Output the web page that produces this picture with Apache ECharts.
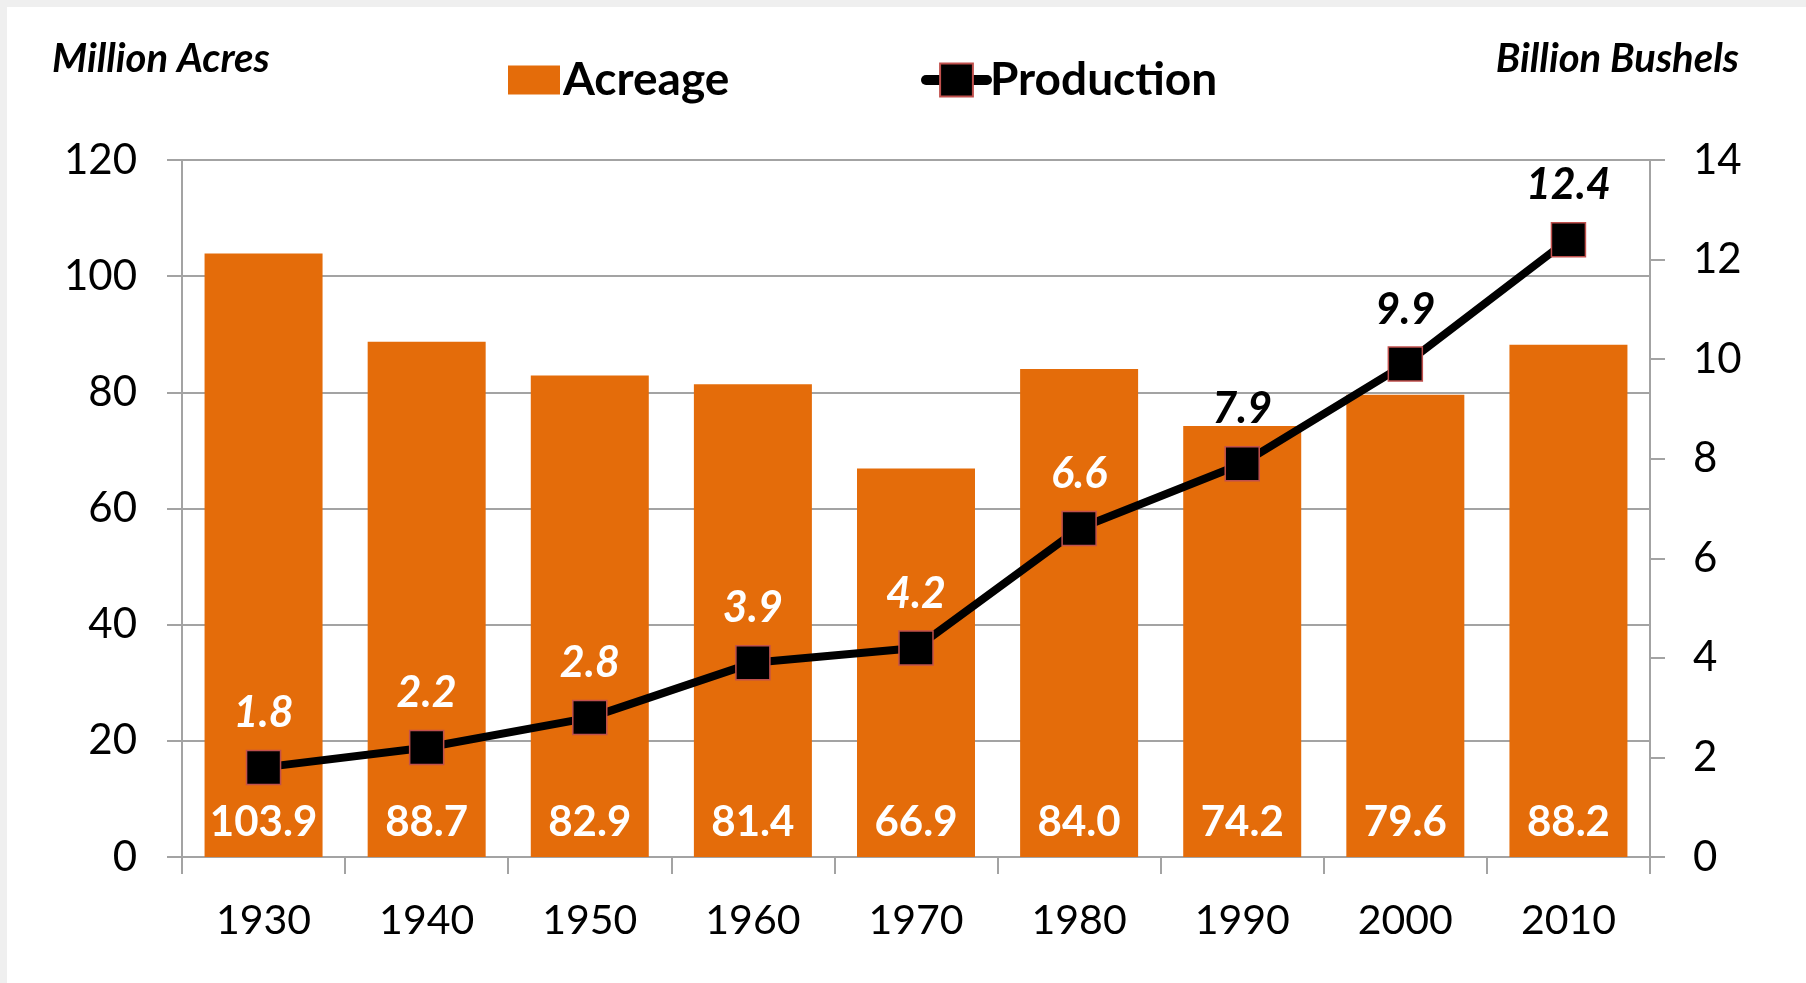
<!DOCTYPE html>
<html>
<head>
<meta charset="utf-8">
<script src="https://cdn.jsdelivr.net/npm/echarts@6/dist/echarts.min.js"></script>
<style>
  html, body { margin: 0; padding: 0; background: #efefef; }
  #chart { width: 1806px; height: 983px; }
</style>
</head>
<body>
<div id="chart"></div>
<script>
const years = ['1930', '1940', '1950', '1960', '1970', '1980', '1990', '2000', '2010'];
const acreage = [103.9, 88.7, 82.9, 81.4, 66.9, 84.0, 74.2, 79.6, 88.2];
const production = [1.8, 2.2, 2.8, 3.9, 4.2, 6.6, 7.9, 9.9, 12.4];
const leftAxisRange = [0, 120, 20];
const rightAxisRange = [0, 14, 2];
const leftTitle = 'Million Acres';
const rightTitle = 'Billion Bushels';

const FONT = 'Lato, "Noto Sans", sans-serif';
const GRAY = '#a3a3a3';

const chart = echarts.init(document.getElementById('chart'), null, { renderer: 'canvas' });

const prodData = production.map((v, i) => ({
  value: v,
  label: { color: i >= 6 ? '#000000' : '#ffffff' }
}));

chart.setOption({
  backgroundColor: '#efefef',
  animation: false,
  graphic: [
    { type: 'rect', z: -10, shape: { x: 7, y: 7, width: 1806, height: 983 }, style: { fill: '#ffffff' } },
    { type: 'text', x: 52, y: 59, style: { text: leftTitle, font: 'italic bold 40px ' + FONT, fill: '#000', textAlign: 'left', textVerticalAlign: 'middle' } },
    { type: 'text', x: 1739, y: 59, style: { text: rightTitle, font: 'italic bold 40px ' + FONT, fill: '#000', textAlign: 'right', textVerticalAlign: 'middle' } }
  ],
  legend: [
    {
      data: [{ name: 'Acreage', icon: 'rect' }],
      left: 503, top: 52,
      itemWidth: 52, itemHeight: 29, itemGap: 0,
      textStyle: { fontFamily: FONT, fontSize: 46, fontWeight: 'bold', color: '#000', padding: [0, 0, 0, -2] }
    },
    {
      data: ['Production'],
      left: 916, top: 52,
      itemWidth: 61, itemHeight: 41, itemGap: 0,
      lineStyle: { width: 10, cap: 'round', color: '#000' },
      textStyle: { fontFamily: FONT, fontSize: 46, fontWeight: 'bold', color: '#000', padding: [0, 0, 0, -2] }
    }
  ],
  grid: { left: 182, right: 156, top: 160, bottom: 126, containLabel: false },
  xAxis: {
    type: 'category',
    data: years,
    boundaryGap: true,
    axisLine: { show: true, lineStyle: { color: GRAY, width: 2 } },
    axisTick: { show: true, length: 17, lineStyle: { color: GRAY, width: 2 } },
    axisLabel: { fontFamily: FONT, fontSize: 41, color: '#000', margin: 43 }
  },
  yAxis: [
    {
      type: 'value',
      min: leftAxisRange[0], max: leftAxisRange[1], interval: leftAxisRange[2],
      axisLine: { show: true, lineStyle: { color: GRAY, width: 2 } },
      axisTick: { show: true, length: 15, lineStyle: { color: GRAY, width: 2 } },
      splitLine: { show: true, lineStyle: { color: GRAY, width: 2 } },
      axisLabel: { fontFamily: FONT, fontSize: 42, color: '#000', margin: 45 }
    },
    {
      type: 'value',
      position: 'right',
      min: rightAxisRange[0], max: rightAxisRange[1], interval: rightAxisRange[2],
      axisLine: { show: true, lineStyle: { color: GRAY, width: 2 } },
      axisTick: { show: true, length: 15, lineStyle: { color: GRAY, width: 2 } },
      splitLine: { show: false },
      axisLabel: { fontFamily: FONT, fontSize: 42, color: '#000', margin: 43 }
    }
  ],
  series: [
    {
      name: 'Acreage',
      type: 'bar',
      data: acreage,
      barWidth: 118,
      itemStyle: { color: '#E46C0A' },
      label: {
        show: true,
        position: 'insideBottom',
        distance: 14,
        formatter: p => p.value.toFixed(1),
        fontFamily: FONT, fontSize: 42, fontWeight: 'bold', color: '#ffffff'
      },
      z: 2
    },
    {
      name: 'Production',
      type: 'line',
      yAxisIndex: 1,
      data: prodData,
      symbol: 'rect',
      symbolSize: 34,
      lineStyle: { color: '#000000', width: 8 },
      itemStyle: { color: '#000000', borderColor: '#c0504d', borderWidth: 1.5 },
      label: {
        show: true,
        position: 'top',
        distance: 15,
        formatter: p => p.value.toFixed(1),
        fontFamily: FONT, fontSize: 43, fontWeight: 'bold', fontStyle: 'italic'
      },
      z: 5
    }
  ]
});
</script>
</body>
</html>
